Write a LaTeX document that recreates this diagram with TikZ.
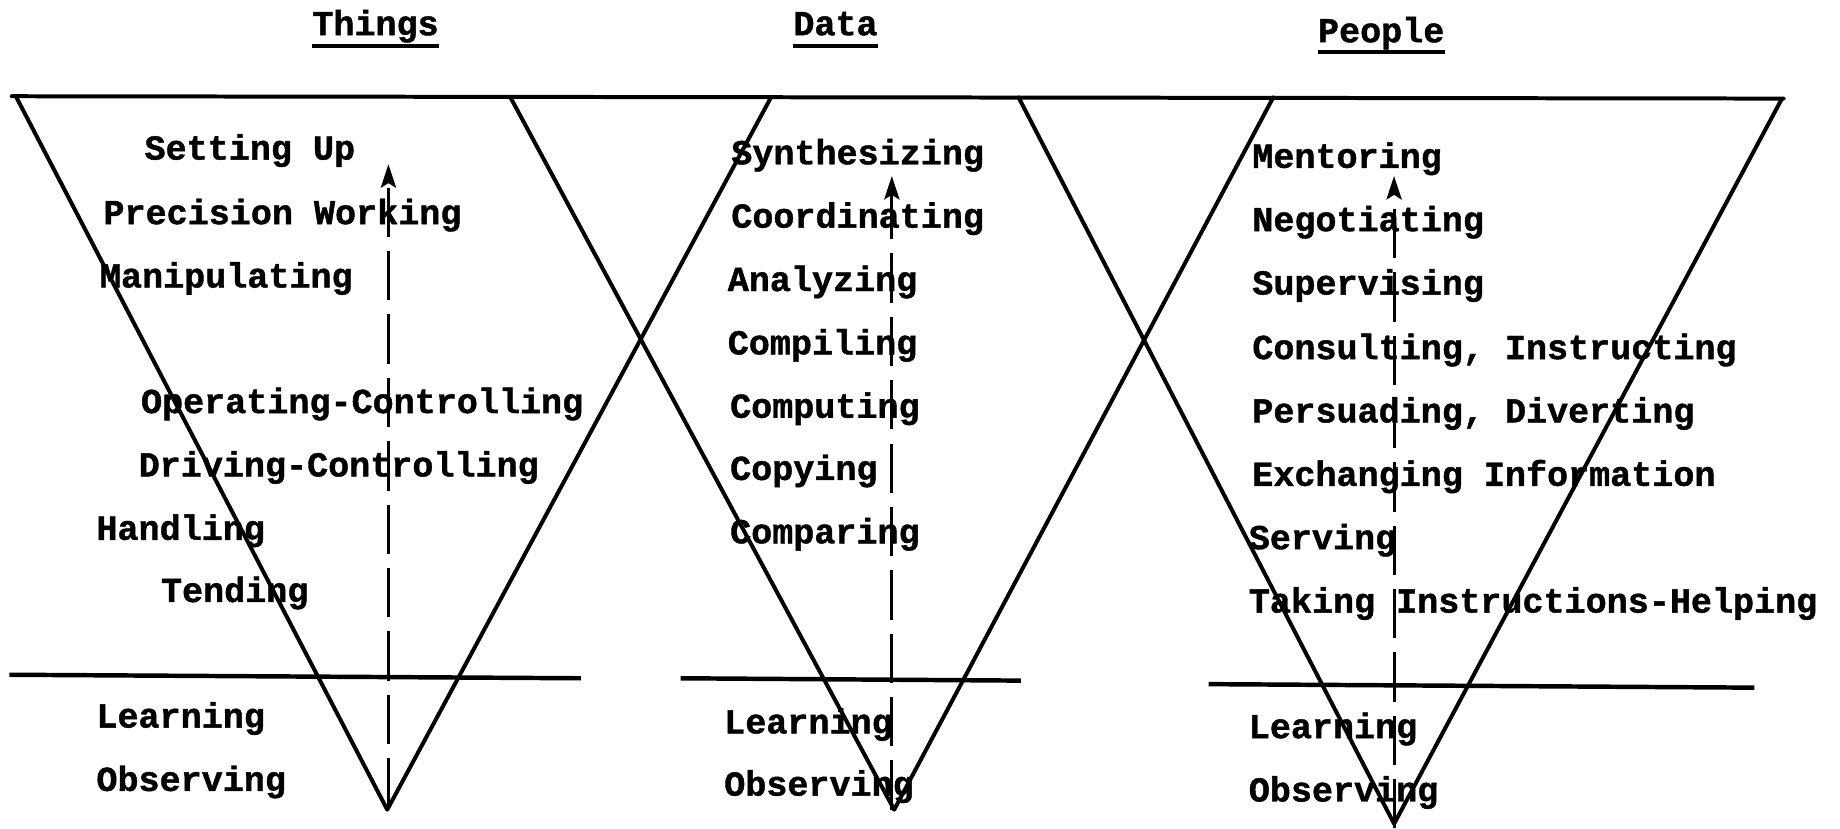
\documentclass[tikz,border=0pt]{standalone}
\usepackage{fontspec}
\setmonofont{Liberation Mono}[BoldFeatures={FakeBold=1.2}]
\usetikzlibrary{arrows.meta}
\begin{document}
\begin{tikzpicture}[x=1pt,y=-1pt,
  lbl/.style={anchor=base west, inner sep=0pt, font=\ttfamily\bfseries\fontsize{29.9}{36}\selectfont},
  ttl/.style={anchor=base, inner sep=0pt, font=\ttfamily\bfseries\fontsize{29.9}{36}\selectfont},
  edge/.style={line width=3.4pt, line cap=round, line join=round},
  sepline/.style={line width=3.8pt},
  uline/.style={line width=3.2pt},
  uparrow/.style={line width=2.6pt, dash pattern=on 42pt off 12pt, -{Stealth[length=20pt,width=13pt,inset=4pt]}}]
\useasboundingbox (0,0) rectangle (1568,706);
% titles
\node[ttl] (tThings) at (320,30) {Things};
\node[ttl] (tData) at (712,30) {Data};
\node[ttl] (tPeople) at (1177,36) {People};
\draw[uline] ([yshift=-9pt]tThings.base west) -- ([yshift=-9pt]tThings.base east);
\draw[uline] ([yshift=-9pt]tData.base west) -- ([yshift=-9pt]tData.base east);
\draw[uline] ([yshift=-8pt]tPeople.base west) -- ([yshift=-8pt]tPeople.base east);
% top line
\coordinate (topL) at (10,82);
\coordinate (topR) at (1520,84);
\draw[edge] (topL) -- (topR);
% triangles
\coordinate (a1) at (14,83);  \coordinate (b1) at (657,83);  \coordinate (c1) at (330,690);
\coordinate (a2) at (435,83); \coordinate (b2) at (1085,83); \coordinate (c2) at (762,690);
\coordinate (a3) at (868,83); \coordinate (b3) at (1518,85); \coordinate (c3) at (1188,702);
\draw[edge] (a1) -- (c1) -- (b1);
\draw[edge] (a2) -- (c2) -- (b2);
\draw[edge] (a3) -- (c3) -- (b3);
% separators
\coordinate (s1a) at (8,575);    \coordinate (s1b) at (495,578);
\coordinate (s2a) at (580,578);  \coordinate (s2b) at (870,580);
\coordinate (s3a) at (1030,583); \coordinate (s3b) at (1495,586);
\draw[sepline] (s1a) -- (s1b);
\draw[sepline] (s2a) -- (s2b);
\draw[sepline] (s3a) -- (s3b);
% dashed arrows
\coordinate (u1a) at (331,688); \coordinate (u1b) at (331,140);
\coordinate (u2a) at (760,690); \coordinate (u2b) at (760,150);
\coordinate (u3a) at (1188,706); \coordinate (u3b) at (1188,150);
\draw[uparrow] (u1a) -- (u1b);
\draw[uparrow] (u2a) -- (u2b);
\draw[uparrow] (u3a) -- (u3b);
% Things
\node[lbl] (th1) at (123,136) {Setting Up};
\node[lbl] (th2) at (88,191) {Precision Working};
\node[lbl] (th3) at (85,245) {Manipulating};
\node[lbl] (th4) at (120,352) {Operating-Controlling};
\node[lbl] (th5) at (118,406) {Driving-Controlling};
\node[lbl] (th6) at (82,460) {Handling};
\node[lbl] (th7) at (137,513) {Tending};
\node[lbl] (th8) at (82,620) {Learning};
\node[lbl] (th9) at (82,674) {Observing};
% Data
\node[lbl] (d1) at (623,140) {Synthesizing};
\node[lbl] (d2) at (623,194) {Coordinating};
\node[lbl] (d3) at (620,248) {Analyzing};
\node[lbl] (d4) at (620,302) {Compiling};
\node[lbl] (d5) at (622,356) {Computing};
\node[lbl] (d6) at (622,409) {Copying};
\node[lbl] (d7) at (622,463) {Comparing};
\node[lbl] (d8) at (617,625) {Learning};
\node[lbl] (d9) at (617,678) {Observing};
% People
\node[lbl] (p1) at (1067,143) {Mentoring};
\node[lbl] (p2) at (1067,197) {Negotiating};
\node[lbl] (p3) at (1067,251) {Supervising};
\node[lbl] (p4) at (1067,306) {Consulting, Instructing};
\node[lbl] (p5) at (1067,360) {Persuading, Diverting};
\node[lbl] (p6) at (1067,414) {Exchanging Information};
\node[lbl] (p7) at (1064,468) {Serving};
\node[lbl] (p8) at (1064,522) {Taking Instructions-Helping};
\node[lbl] (p9) at (1064,629) {Learning};
\node[lbl] (p10) at (1064,683) {Observing};
\end{tikzpicture}
\end{document}
